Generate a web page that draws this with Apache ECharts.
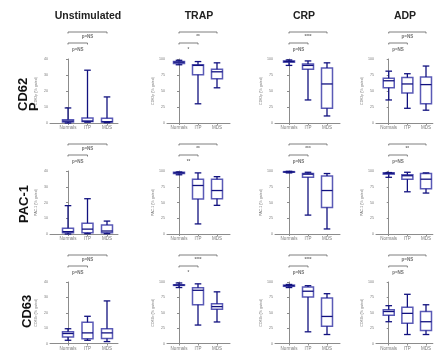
<!DOCTYPE html>
<html><head><meta charset="utf-8">
<script src="https://cdn.jsdelivr.net/npm/echarts@6/dist/echarts.min.js"></script>
<style>html,body{margin:0;padding:0;background:#fff}#c{width:434px;height:351px}</style>
</head><body><div id="c"></div>
<script>
const categories = ['Normals', 'ITP', 'MDS'];
const conditions = ['Unstimulated', 'TRAP', 'CRP', 'ADP'];
const markers = ['CD62P', 'PAC-1', 'CD63'];
const yAxisNames = ['CD62p (% gated)', 'PAC-1 (% gated)', 'CD63b (% gated)'];
const yTicksUnstim = [0, 10, 20, 30, 40];
const yTicksAgonist = [0, 25, 50, 75, 100];

// each box: [min, Q1, median, Q3, max] for Normals, ITP, MDS
const cd62p_unstim = [[0, 0.6, 1.2, 2.1, 9.4], [0.5, 1.0, 1.2, 3.1, 33], [0.2, 0.6, 0.8, 2.9, 16.3]];
const cd62p_trap   = [[91, 93, 95, 96, 98], [30, 75.5, 90, 91, 96], [55, 69, 80, 84, 94]];
const cd62p_crp    = [[90, 95, 96, 97, 98.5], [36, 84, 90, 92, 97], [11, 23, 61, 86, 94]];
const cd62p_adp    = [[36, 55, 66, 70, 81], [23, 47, 61, 71, 77], [20, 30, 60, 72, 89]];

const pac1_unstim = [[0, 0.8, 1.5, 3.6, 18], [0.2, 0.8, 3.1, 6.9, 22.4], [0.2, 0.8, 1.9, 5.7, 8.2]];
const pac1_trap   = [[94, 96, 97, 98, 98.4], [16, 55.5, 77, 87, 97], [45.5, 56, 69, 87, 91]];
const pac1_crp    = [[97, 98, 98.5, 99, 99.5], [30, 90, 95, 96, 98], [8, 42, 69, 92, 96]];
const pac1_adp    = [[90, 95, 96.5, 97, 97.5], [67, 87, 92.5, 94, 98], [65, 72, 87, 96, 97]];

const cd63_unstim = [[2.1, 4.2, 6.5, 7.7, 9.6], [2.1, 3.1, 6.9, 13.8, 17.7], [1.25, 3.3, 6.9, 9.6, 27.7]];
const cd63_trap   = [[91, 94.5, 95, 95.5, 98.4], [30, 63, 86.5, 90.6, 97], [35, 55.7, 60, 64.6, 84]];
const cd63_crp    = [[91, 93, 94, 95, 96], [19, 75.5, 85, 92, 94], [14.6, 28, 44, 74, 81]];
const cd63_adp    = [[35.4, 46, 52, 55, 61.5], [14.6, 33, 49, 59, 80], [14.6, 21, 35.4, 52, 63]];

// significance: Normals vs MDS (top bracket), Normals vs ITP (lower bracket)
const sigNormalsMDS = [['p=NS', '**', '****', 'p=NS'], ['p=NS', '**', '***', '**'], ['p=NS', '****', '****', 'p=NS']];
const sigNormalsITP = [['p=NS', '*', 'p=NS', 'p=NS'], ['p=NS', '**', 'p=NS', 'p=NS'], ['p=NS', '*', 'p=NS', 'p=NS']];

const panels = [
  [cd62p_unstim, cd62p_trap, cd62p_crp, cd62p_adp],
  [pac1_unstim, pac1_trap, pac1_crp, pac1_adp],
  [cd63_unstim, cd63_trap, cd63_crp, cd63_adp]
];

// layout (pixels)
const colLeft = [50, 167, 275, 376];
const colFirst = [68, 179, 289, 389];
const colRight = [118, 230, 340, 434];
const colStep = [19.5, 19, 19, 19];
const rowTop = [59, 171, 282];
const rowH = [64, 63, 64];

const DARK = '#11117f', LIGHT = '#5a5ab6', AXIS = '#8c8c8c', TXT = '#7a7a7a';
const FONT = 'Liberation Sans, Arial, sans-serif';

function renderBox(params, api) {
  const x = api.value(0);
  const p = [1, 2, 3, 4, 5].map(k => api.coord([x, api.value(k)]));
  const cx = p[0][0];
  const ymin = p[0][1], yq1 = p[1][1], ymed = p[2][1], yq3 = p[3][1], ymax = p[4][1];
  const hw = 5.5, cw = 3.3;
  return {
    type: 'group',
    children: [
      { type: 'rect', shape: { x: cx - hw, y: yq3, width: 2 * hw, height: Math.max(yq1 - yq3, 0.6) },
        style: { fill: '#ffffff', stroke: LIGHT, lineWidth: 1.5 } },
      { type: 'line', shape: { x1: cx, y1: yq1, x2: cx, y2: ymin }, style: { stroke: DARK, lineWidth: 1.3 } },
      { type: 'line', shape: { x1: cx, y1: yq3, x2: cx, y2: ymax }, style: { stroke: DARK, lineWidth: 1.3 } },
      { type: 'line', shape: { x1: cx - cw, y1: ymin, x2: cx + cw, y2: ymin }, style: { stroke: DARK, lineWidth: 1.3 } },
      { type: 'line', shape: { x1: cx - cw, y1: ymax, x2: cx + cw, y2: ymax }, style: { stroke: DARK, lineWidth: 1.3 } },
      { type: 'line', shape: { x1: cx - hw, y1: ymed, x2: cx + hw, y2: ymed }, style: { stroke: DARK, lineWidth: 1.3 } }
    ]
  };
}

function makeBracketRenderer(ymax, topText, lowText) {
  return function (params, api) {
    const p0 = api.coord([0, ymax]);
    const p1 = api.coord([1, ymax]);
    const p2 = api.coord([2, ymax]);
    const top = p0[1];
    const yA = top - 27, yB = top - 16;
    const ln = { stroke: '#707070', lineWidth: 0.9 };
    const tx = (t, x, y) => ({ type: 'text', style: { text: t, x: x, y: y, fill: '#707070', fontSize: 4.5, fontFamily: FONT, fontWeight: 'bold', align: 'center', verticalAlign: 'middle' } });
    return {
      type: 'group',
      children: [
        { type: 'polyline', shape: { points: [[p0[0], yA + 1.5], [p0[0], yA], [p2[0], yA], [p2[0], yA + 1.5]] }, style: Object.assign({ fill: null }, ln) },
        { type: 'polyline', shape: { points: [[p0[0], yB + 1.5], [p0[0], yB], [p1[0], yB], [p1[0], yB + 1.5]] }, style: Object.assign({ fill: null }, ln) },
        tx(topText, (p0[0] + p2[0]) / 2, yA + 4.5),
        tx(lowText, (p0[0] + p1[0]) / 2, yB + 7)
      ]
    };
  };
}

const grids = [], xAxes = [], yAxes = [], series = [];
let gi = 0;
for (let r = 0; r < 3; r++) {
  for (let c = 0; c < 4; c++) {
    const ticks = c === 0 ? yTicksUnstim : yTicksAgonist;
    const ymax = ticks[ticks.length - 1];
    grids.push({ left: colLeft[c], top: rowTop[r], width: colRight[c] - colLeft[c], height: rowH[r], containLabel: false });
    xAxes.push({
      gridIndex: gi, type: 'value',
      min: -(colFirst[c] - colLeft[c]) / colStep[c],
      max: (colRight[c] - colFirst[c]) / colStep[c],
      splitLine: { show: false },
      axisLine: { show: true, lineStyle: { color: AXIS, width: 1 } },
      axisTick: { show: true, customValues: [0, 1, 2], length: 2, lineStyle: { color: AXIS } },
      axisLabel: { show: true, customValues: [0, 1, 2], formatter: v => categories[Math.round(v)], fontSize: 4.5, color: TXT, margin: 2.5, fontFamily: FONT }
    });
    yAxes.push({
      gridIndex: gi, type: 'value', min: ticks[0], max: ymax, interval: ticks[1] - ticks[0],
      name: yAxisNames[r], nameLocation: 'middle', nameGap: 12, nameRotate: 90,
      nameTextStyle: { fontSize: 3.6, color: TXT, fontFamily: FONT },
      splitLine: { show: false },
      axisLine: { show: true, lineStyle: { color: AXIS, width: 1 } },
      axisTick: { show: true, length: 2, lineStyle: { color: AXIS } },
      axisLabel: { fontSize: 3.6, color: TXT, margin: 2, fontFamily: FONT }
    });
    series.push({
      type: 'custom', xAxisIndex: gi, yAxisIndex: gi,
      data: panels[r][c].map((v, i) => [i].concat(v)),
      encode: { x: 0, y: [1, 2, 3, 4, 5] },
      renderItem: renderBox, clip: false, silent: true
    });
    series.push({
      type: 'custom', xAxisIndex: gi, yAxisIndex: gi,
      data: [[0, 0]], encode: { x: 0, y: 1 },
      renderItem: makeBracketRenderer(ymax, sigNormalsMDS[r][c], sigNormalsITP[r][c]), clip: false, silent: true
    });
    gi++;
  }
}

const titleX = [88, 199, 304, 405];
const graphic = conditions.map((t, i) => ({
  type: 'text', x: titleX[i], y: 16,
  style: { text: t, fill: '#222', fontSize: 10.5, fontWeight: 'bold', fontFamily: FONT, align: 'center', verticalAlign: 'middle' }
}));
const rowLabelParts = [[['CD62', 23, 111], ['P', 34, 111]], [['PAC-1', 24, 223]], [['CD63', 27, 328]]];
rowLabelParts.forEach(parts => parts.forEach(p => graphic.push({
  type: 'text', x: p[1], y: p[2], rotation: Math.PI / 2,
  style: { text: p[0], fill: '#111', fontSize: 13, fontWeight: 'bold', fontFamily: FONT, align: 'left', verticalAlign: 'middle' }
})));

const chart = echarts.init(document.getElementById('c'), null, { renderer: 'canvas' });
chart.setOption({
  animation: false,
  backgroundColor: '#ffffff',
  grid: grids, xAxis: xAxes, yAxis: yAxes, series: series, graphic: graphic
});
</script>
</body></html>
